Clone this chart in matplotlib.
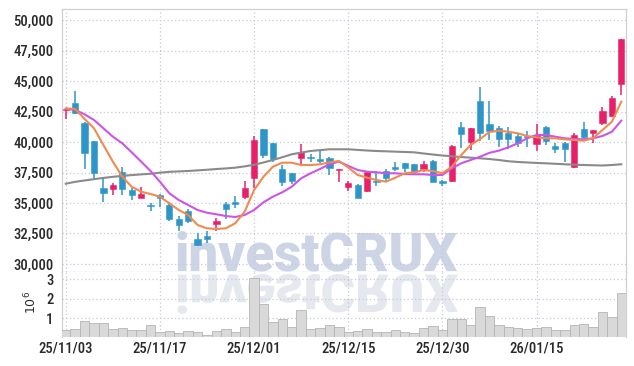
import numpy as np
import pandas as pd
import matplotlib
matplotlib.use("Agg")
import matplotlib.pyplot as plt
from matplotlib.textpath import TextPath
from matplotlib.patches import PathPatch
from matplotlib.font_manager import FontProperties
from matplotlib.transforms import Affine2D

# ---------------- data ----------------
holidays = ["2025-12-25", "2025-12-31", "2026-01-01"]
dates = [d for d in pd.bdate_range("2025-11-03", "2026-01-28") if d.strftime("%Y-%m-%d") not in holidays]

opens = [42600, 43190, 41600, 40090, 36230, 36170, 37520, 36070, 35440, 34860,
         35660, 34840, 33690, 34320, 32050, 32290, 33300, 34920, 35080, 35490,
         37080, 41080, 39930, 37790, 37460, 38720, 38800, 38610, 38720, 37690,
         36340, 36480, 36010, 36810, 37630, 37960, 38260, 38180, 37790, 38450,
         36810, 36810, 41240, 40030, 43380, 41460, 41130, 40720, 40500, 40500,
         39820, 41240, 39710, 39900, 37930, 41050, 40720, 41590, 42140, 44750]
highs = [42800, 44220, 41650, 40100, 37030, 36620, 37930, 36210, 36290, 35030,
         35760, 35060, 33960, 34480, 32540, 32700, 33740, 35060, 35580, 36810,
         40530, 41100, 39950, 38120, 37500, 39820, 39000, 39350, 38800, 37800,
         36810, 36550, 37520, 37630, 37790, 38340, 38300, 38200, 38470, 38530,
         36850, 39760, 41630, 41150, 44530, 43380, 41300, 41220, 40770, 40910,
         41490, 41300, 39900, 40030, 40770, 41680, 41000, 42860, 43790, 48440]
lows = [41900, 42300, 37790, 37080, 35060, 35660, 35660, 35220, 35390, 34340,
        34700, 33520, 32730, 33360, 31500, 31690, 32700, 33660, 34570, 35330,
        36260, 38720, 38370, 36420, 36560, 38120, 38340, 38260, 37300, 36700,
        35990, 35390, 35880, 36420, 36750, 37630, 37570, 37300, 37520, 36700,
        36420, 36750, 39540, 39350, 40090, 40170, 39570, 39410, 39570, 39620,
        39300, 39760, 39080, 38400, 37900, 40170, 39950, 41430, 42040, 43870]
closes = [42750, 42410, 39130, 37490, 35850, 36480, 36170, 35660, 35740, 34750,
          35390, 33690, 33190, 33520, 31550, 32020, 33560, 34510, 34940, 36230,
          40150, 38940, 38610, 36750, 36810, 39210, 38670, 38450, 37900, 37790,
          36620, 35440, 37520, 36700, 37080, 37820, 37900, 37520, 38180, 36750,
          36670, 39710, 40690, 41130, 40720, 40940, 40230, 40230, 39900, 40390,
          40560, 40120, 39460, 39460, 40560, 40440, 40990, 42550, 43620, 48440]
ma_short = [42775, 42720, 41897, 41133, 39760, 38400, 37160, 36339, 35930, 35740,
            35520, 34976, 34426, 34015, 33194, 32923, 32866, 32923, 33333, 34286,
            36068, 37160, 37980, 38310, 38310, 38120, 38120, 38178, 38342, 38449,
            37920, 37300, 37078, 36889, 36750, 37078, 37440, 37520, 37710, 37627,
            37440, 37980, 38941, 39760, 40250, 40830, 40936, 40854, 40723, 40500,
            40394, 40312, 40312, 40230, 40172, 40115, 40312, 40994, 41675, 43317]
ma_mid = [42720, 42640, 42283, 41815, 41133, 40444, 39900, 39163, 38400, 37627,
          36750, 35797, 35246, 34836, 34426, 34200, 34073, 33933, 33851, 34015,
          34426, 35058, 35520, 35880, 36339, 37028, 37440, 37792, 38178, 38400,
          38050, 37710, 37570, 37520, 37440, 37440, 37380, 37357, 37357, 37300,
          37300, 37850, 38260, 38530, 38800, 39120, 39300, 39573, 39900, 40312,
          40583, 40583, 40444, 40312, 40255, 40230, 40312, 40500, 40854, 41757]
ma_long = [36585, 36740, 36850, 36960, 37060, 37150, 37225, 37290, 37350, 37400,
           37490, 37560, 37595, 37630, 37680, 37730, 37790, 37840, 37900, 38010,
           38135, 38330, 38530, 38760, 39000, 39140, 39270, 39340, 39410, 39410,
           39410, 39360, 39310, 39270, 39245, 39215, 39190, 39160, 39065, 38980,
           38900, 38840, 38775, 38720, 38670, 38610, 38530, 38430, 38370, 38330,
           38290, 38260, 38220, 38180, 38145, 38120, 38100, 38080, 38120, 38180]
volumes = [360000, 430000, 830000, 740000, 740000, 430000, 480000, 380000, 380000, 640000,
           280000, 330000, 220000, 330000, 280000, 120000, 330000, 410000, 280000, 520000,
           3060000, 1710000, 790000, 930000, 520000, 1400000, 430000, 470000, 620000, 520000,
           290000, 330000, 430000, 280000, 280000, 360000, 290000, 220000, 470000, 590000,
           380000, 950000, 950000, 640000, 1550000, 1100000, 640000, 540000, 470000, 430000,
           470000, 520000, 380000, 380000, 640000, 690000, 540000, 1290000, 1050000, 2300000]
tick_labels = ["25/11/03", "25/11/17", "25/12/01", "25/12/15", "25/12/30", "26/01/15"]
price_ticks = [30000, 32500, 35000, 37500, 40000, 42500, 45000, 47500, 50000]
vol_ticks = [1000000, 2000000, 3000000]

# ---------------- style ----------------
tick_font = dict(family="Roboto Condensed", weight="medium", size=10.5)
wm_font = FontProperties(family="Roboto", weight=900, size=38)

UP = "#e8206a"
DOWN = "#2e95c9"
GRID = "#c5c9d8"
TXT = "#2a2a2a"

W, H = 634, 366
fig = plt.figure(figsize=(W / 100, H / 100), dpi=100)
L, R = 62 / W, 626 / W
ax = fig.add_axes([L, (H - 272.3) / H, R - L, (272.3 - 9) / H])
axv = fig.add_axes([L, (H - 337.3) / H, R - L, (337.3 - 272.3) / H], sharex=ax)

x = np.arange(len(dates))
o, h, l, c = map(np.array, (opens, highs, lows, closes))
colors = np.where(c >= o, UP, DOWN)

ax.vlines(x, l, h, colors=colors, linewidth=1.1, zorder=3)
body_bottom = np.minimum(o, c)
body_h = np.maximum(np.abs(c - o), 70)
ax.bar(x, body_h, bottom=body_bottom, width=0.66, color=colors, edgecolor=colors,
       linewidth=0.4, zorder=4)

ax.plot(x, ma_long, color="#8a8a8a", lw=1.5, zorder=5)
ax.plot(x, ma_mid, color="#cc55e6", lw=1.5, zorder=5)
ax.plot(x, ma_short, color="#f08a50", lw=1.5, zorder=5)

axv.bar(x, volumes, width=1.0, color="#d9d9d9", edgecolor="#b5b5b5", linewidth=0.6, zorder=3)

tick_pos = [i for i, d in enumerate(dates) if d.strftime("%y/%m/%d") in tick_labels]

ax.set_xlim(-0.4, len(dates) - 0.5)
ax.set_ylim(29311, 50928)
axv.set_ylim(0, 3.37e6)

ax.set_yticks(price_ticks)
ax.set_yticklabels([f"{v:,}" for v in price_ticks], color=TXT, **tick_font)
axv.set_yticks(vol_ticks)
axv.set_yticklabels([str(v // 1000000) for v in vol_ticks], color=TXT, **tick_font)
axv.set_xticks(tick_pos)
axv.set_xticklabels(tick_labels, color=TXT, **tick_font)
ax.tick_params(axis="x", labelbottom=False, length=0)
ax.tick_params(axis="y", length=0, pad=6)
axv.tick_params(axis="y", length=0, pad=6)
axv.tick_params(axis="x", length=0, pad=3)

for a in (ax, axv):
    a.grid(True, color=GRID, linestyle=(0, (1, 2)), linewidth=0.9, zorder=2)
    a.set_axisbelow(False)
    for s in a.spines.values():
        s.set_color("#d0d0d0")
        s.set_linewidth(0.9)
axv.spines["top"].set_visible(False)
ax.spines["bottom"].set_color("#c8c8c8")
axv.spines["bottom"].set_visible(False)

fig.text(31 / W, (H - 302) / H, r"$10^6$", rotation=90, ha="center", va="center",
         color=TXT, fontsize=9)

# watermark (drawn below grid and marks)
ax.text((175 - 62) / 564, (272.3 - 270.5) / 263.3, "investCRUX", transform=ax.transAxes,
        fontproperties=wm_font, color="#cdd4e6", ha="left",
        va="baseline", zorder=1, clip_on=True)
size_px = wm_font.get_size_in_points() * 100 / 72
tp = TextPath((0, 0), "investCRUX", size=size_px, prop=wm_font)
tr = Affine2D().scale(1, -1).translate(175, H - 274.5)
refl = PathPatch(tp, transform=tr, facecolor="#e6e8f0", edgecolor="none", zorder=1)
axv.add_artist(refl)
refl.set_clip_box(axv.bbox)

fig.savefig("out.png", dpi=100)
